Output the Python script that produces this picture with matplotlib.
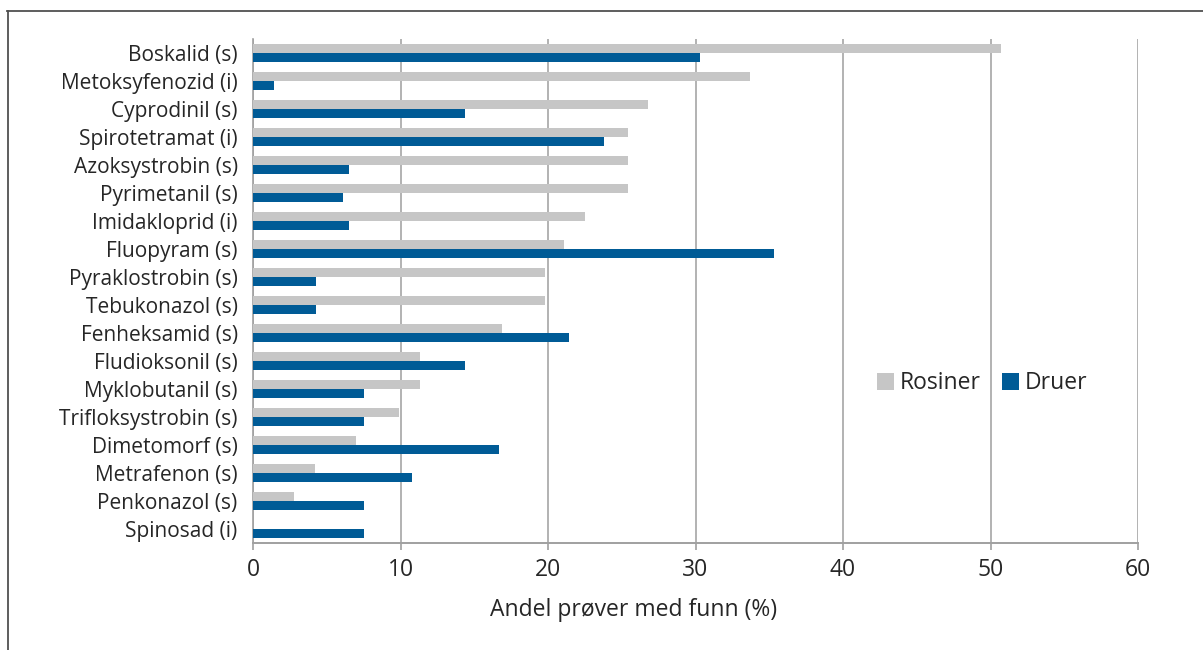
import matplotlib
matplotlib.use("Agg")
import matplotlib.pyplot as plt
from matplotlib.lines import Line2D
from matplotlib.patches import Patch

categories = ["Boskalid (s)", "Metoksyfenozid (i)", "Cyprodinil (s)", "Spirotetramat (i)",
              "Azoksystrobin (s)", "Pyrimetanil (s)", "Imidakloprid (i)", "Fluopyram (s)",
              "Pyraklostrobin (s)", "Tebukonazol (s)", "Fenheksamid (s)", "Fludioksonil (s)",
              "Myklobutanil (s)", "Trifloksystrobin (s)", "Dimetomorf (s)", "Metrafenon (s)",
              "Penkonazol (s)", "Spinosad (i)"]
rosiner = [50.7, 33.7, 26.8, 25.4, 25.4, 25.4, 22.5, 21.1, 19.8, 19.8, 16.9, 11.3,
           11.3, 9.9, 7.0, 4.2, 2.8, 0.0]
druer = [30.3, 1.4, 14.4, 23.8, 6.5, 6.1, 6.5, 35.3, 4.3, 4.3, 21.4, 14.4,
         7.5, 7.5, 16.7, 10.8, 7.5, 7.5]
xticks = [0, 10, 20, 30, 40, 50, 60]
xlabel = "Andel prøver med funn (%)"
series_names = ["Rosiner", "Druer"]

grey = "#C6C6C6"
blue = "#005B96"
font = ["Open Sans", "DejaVu Sans"]
plt.rcParams["font.family"] = font

fig = plt.figure(figsize=(12.03, 6.5), dpi=100)
ax = fig.add_axes([253/1203, 1-543/650, (1138-253)/1203, (543-39)/650])

pos = list(range(len(categories)))
h = 0.31
ax.barh([p - h/2 for p in pos], rosiner, height=h, color=grey, zorder=3)
ax.barh([p + h/2 for p in pos], druer, height=h, color=blue, zorder=3)

ax.set_ylim(len(categories) - 0.5, -0.5)
ax.set_xlim(0, 60)
ax.set_xticks(xticks)
ax.set_xticklabels([str(t) for t in xticks], fontsize=16.5, color="#262626")
ax.set_yticks(pos)
ax.set_yticklabels(categories, fontsize=15, color="#262626")
ax.tick_params(axis="y", length=0, pad=11)
ax.tick_params(axis="x", length=5, color="#A0A0A0", width=1.2, pad=6)
ax.xaxis.grid(True, color="#A6A6A6", linewidth=1.2, zorder=0)
for s in ["top", "right"]:
    ax.spines[s].set_visible(False)
ax.spines["left"].set_color("#A0A0A0")
ax.spines["bottom"].set_color("#A0A0A0")
ax.spines["left"].set_linewidth(1.2)
ax.spines["bottom"].set_linewidth(1.4)
ax.set_xlabel(xlabel, fontsize=16.5, color="#262626")
ax.xaxis.set_label_coords((634-253)/885, -(610-543)/504)
ax.xaxis.label.set_va("center")

handles = [Patch(facecolor=grey, edgecolor="none"), Patch(facecolor=blue, edgecolor="none")]
leg = ax.legend(handles, series_names, loc="center", bbox_to_anchor=(0.824, 0.317),
                ncol=2, frameon=False, fontsize=16.5, handlelength=0.75, handleheight=0.75,
                handletextpad=0.25, columnspacing=0.9)
for t in leg.get_texts():
    t.set_color("#262626")

# outer frame (top and left visible)
fig.add_artist(Line2D([7/1203, 1.0], [1-10.5/650, 1-10.5/650], color="#505050", linewidth=1.3,
                      transform=fig.transFigure))
fig.add_artist(Line2D([7.5/1203, 7.5/1203], [0.0, 1-10.5/650], color="#505050", linewidth=1.3,
                      transform=fig.transFigure))

fig.savefig("out.png", dpi=100)
